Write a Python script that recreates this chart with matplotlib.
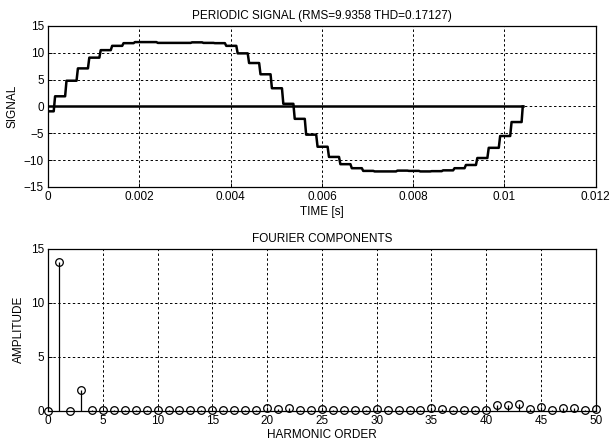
import numpy as np
import matplotlib
matplotlib.use("Agg")
import matplotlib.pyplot as plt

plt.rcParams['font.family'] = ['Liberation Sans', 'DejaVu Sans']
plt.rcParams['font.size'] = 8.5

# ---- signal: sample-and-hold levels, one per 0.25 ms step ----
levels = [-0.9, 1.9, 4.8, 7.1, 9.1, 10.5, 11.3, 11.8, 12.0, 12.0, 11.85,
          11.85, 11.85, 11.95, 11.85, 11.8, 11.3, 9.9, 8.1, 6.0, 3.4,
          0.5, -2.3, -5.25, -7.5, -9.4, -10.75, -11.5, -12.0, -12.1, -12.1,
          -11.95, -12.0, -12.1, -12.05, -11.9, -11.5, -10.9, -9.6, -7.7, -5.5,
          -2.9]
first_edge = 0.125e-3   # s
step = 0.25e-3          # s
ramp = 0.03e-3          # s
t_end = 10.4e-3         # s

# ---- Fourier amplitudes, harmonic order 0..50 ----
orders = list(range(51))
amps = [0.0, 13.8, 0.0, 1.95, 0.02, 0.03, 0.02, 0.02, 0.02, 0.02,
        0.02, 0.02, 0.02, 0.02, 0.02, 0.02, 0.02, 0.02, 0.02, 0.02,
        0.2, 0.1, 0.2, 0.05, 0.05, 0.1, 0.05, 0.05, 0.05, 0.05,
        0.1, 0.05, 0.05, 0.05, 0.05, 0.2, 0.15, 0.05, 0.05, 0.05,
        0.05, 0.55, 0.5, 0.65, 0.1, 0.35, 0.05, 0.25, 0.25, 0.05,
        0.15]

rms = 9.9358
thd = 0.17127

# build staircase vertices
t = [0.0]
y = [levels[0]]
for k, lev in enumerate(levels[1:]):
    edge = first_edge + k * step
    t += [edge, edge + ramp]
    y += [y[-1], lev]
t += [first_edge + (len(levels) - 1) * step, t_end]
y += [y[-1], 0.0]

fig = plt.figure(figsize=(6.10, 4.45), dpi=100)
ax1 = fig.add_axes([0.0787, 0.5798, 0.898, 0.3618])
ax2 = fig.add_axes([0.0787, 0.0775, 0.898, 0.3630])

grid_kw = dict(color='black', linestyle=(0, (2.5, 2.5)), linewidth=0.7)

# top: periodic signal
ax1.plot([0, t_end], [0, 0], color='black', linewidth=1.8)
ax1.plot(t, y, color='black', linewidth=1.8)
ax1.set_xlim(0, 0.012)
ax1.set_ylim(-15, 15)
ax1.set_xticks(np.arange(0, 0.0121, 0.002))
ax1.set_xticklabels(['0', '0.002', '0.004', '0.006', '0.008', '0.01', '0.012'])
ax1.set_yticks([-15, -10, -5, 0, 5, 10, 15])
ax1.grid(True, **grid_kw)
ax1.set_title('PERIODIC SIGNAL (RMS=%g THD=%g)' % (rms, thd), fontsize=8.5, pad=5)
ax1.set_xlabel('TIME [s]', labelpad=2)
ax1.set_ylabel('SIGNAL', labelpad=4)

# bottom: harmonic amplitudes
markers, stems, base = ax2.stem(orders, amps, linefmt='k-', markerfmt='ko', basefmt=' ')
markers.set_markerfacecolor('none')
markers.set_markeredgecolor('black')
markers.set_markersize(5.5)
markers.set_markeredgewidth(0.9)
markers.set_clip_on(False)
stems.set_linewidth(0.9)
ax2.set_xlim(0, 50)
ax2.set_ylim(0, 15)
ax2.set_xticks(range(0, 51, 5))
ax2.set_yticks([0, 5, 10, 15])
ax2.grid(True, **grid_kw)
ax2.set_title('FOURIER COMPONENTS', fontsize=8.5, pad=5)
ax2.set_xlabel('HARMONIC ORDER', labelpad=2)
ax2.set_ylabel('AMPLITUDE', labelpad=4)

for ax in (ax1, ax2):
    ax.set_axisbelow(True)
    ax.tick_params(direction='in', length=3, width=0.7, pad=3, labelsize=8.5)
    for sp in ax.spines.values():
        sp.set_linewidth(0.9)
        sp.set_color('black')

fig.savefig('out.png', dpi=100)
